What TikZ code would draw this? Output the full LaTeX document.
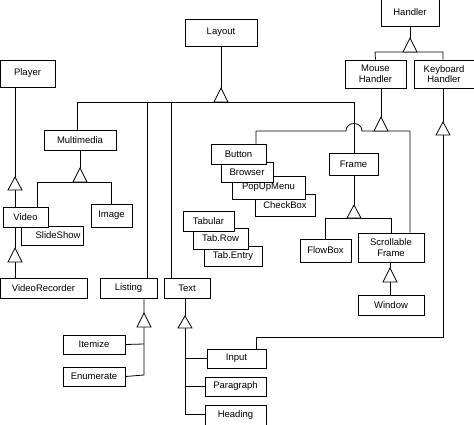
\documentclass[tikz,border=0pt]{standalone}
\usepackage{fontspec}
\setmainfont{Liberation Sans}
\begin{document}
\begin{tikzpicture}[x=1pt,y=-1pt,line width=0.8pt,
  box/.style={draw,fill=white,inner sep=0pt,font=\fontsize{9.5}{10.5}\selectfont,align=center},
  tri/.style={draw,fill=white,line join=miter}]
\useasboundingbox (0,0) rectangle (474,425);
\newcommand{\tri}[3]{\draw[tri] (#1,#2)--(#1-7,#3)--(#1+7,#3)--cycle;}
\newcommand{\bx}[6]{\node[box,minimum width={#3-#2},minimum height={#5-#4}] (#1) at ({(#2+#3)/2},{(#4+#5)/2}) {#6};}
% boxes
\bx{handler}{381}{439}{-2}{26}{Handler}
\bx{layout}{185}{257}{19}{46}{Layout}
\bx{player}{0}{55}{60}{87}{Player}
\bx{mouse}{345}{406}{60}{88}{Mouse\\Handler}
\bx{keyb}{414}{474}{60}{88}{Keyboard\\Handler}
\bx{multi}{44}{116}{130}{150}{Multimedia}
\bx{slide}{21}{83}{226}{245}{\hspace*{12pt}SlideShow}
\bx{video}{3}{48}{207}{227}{Video}
\bx{image}{91}{132}{204}{227}{Image}
\bx{vrec}{0}{87}{278}{298}{VideoRecorder}
\bx{listing}{100}{157}{278}{298}{Listing}
\bx{text}{164}{210}{278}{298}{Text}
\bx{itemize}{63}{125}{335}{354}{Itemize}
\bx{enum}{63}{125}{367}{386}{Enumerate}
\bx{input}{207}{266}{349}{368}{Input}
\bx{para}{205}{266}{377}{396}{Paragraph}
\bx{heading}{205}{266}{405}{425}{Heading}
\bx{check}{255}{315}{194}{216}{CheckBox}
\bx{popup}{232}{305}{176}{199}{PopUpMenu}
\bx{browser}{221}{273}{162}{182}{Browser}
\bx{button}{211}{266}{144}{164}{Button}
\bx{tentry}{204}{262}{246}{266}{Tab.Entry}
\bx{trow}{193}{248}{228}{249}{Tab.Row}
\bx{tabular}{183}{234}{211}{231}{Tabular}
\bx{frame}{329}{378}{153}{175}{Frame}
\bx{flow}{300}{351}{239}{262}{FlowBox}
\bx{sframe}{358}{424}{233}{262}{Scrollable\\Frame}
\bx{window}{358}{424}{295}{315}{Window}
% connectors
\draw (handler.south) -- (410,38);
\draw (mouse.north) -- (375,52) -- (443,52) -- (keyb.north -| 443,0);
\tri{410}{38}{52}
\draw (layout.south) -- (221,88);
\draw (multi.north -| 77,0) -- (77,102) -- (354,102) -- (frame.north -| 354,0);
\draw (147,102) -- (listing.north -| 147,0);
\draw (171,102) -- (text.north -| 171,0);
\tri{221}{88}{102}
\draw (multi.south -| 80,0) -- (80,168);
\draw (video.north -| 37,0) -- (37,182) -- (111,182) -- (image.north -| 111,0);
\tri{80}{168}{182}
\draw (player.south -| 15,0) -- (15,177) (15,190) -- (video.north -| 15,0);
\tri{15}{177}{190}
\draw (video.south -| 15,0) -- (15,248) (15,262) -- (vrec.north -| 15,0);
\tri{15}{248}{262}
\draw (listing.south -| 144,0) -- (144,313) (144,327) -- (144,375) -- (enum.east);
\draw (itemize.east) -- (144,344);
\tri{144}{313}{327}
\draw (text.south -| 185,0) -- (185,316) (185,328) -- (185,414) -- (heading.west |- 185,414);
\draw (185,358) -- (input.west |- 185,358);
\draw (185,386) -- (para.west |- 185,386);
\tri{185}{316}{328}
\draw (input.north -| 256,0) -- (256,337) -- (443,337) -- (443,135);
\draw (keyb.south -| 443,0) -- (443,122);
\tri{443}{122}{135}
\draw (button.north -| 256,0) -- (256,131) -- (346,131) .. controls (346,121) and (362,121) .. (362,131) -- (410,131) -- (sframe.north -| 410,0);
\draw (mouse.south -| 381,0) -- (381,117);
\tri{381}{117}{131}
\draw (frame.south -| 354,0) -- (354,205);
\draw (flow.north -| 325,0) -- (325,218) -- (391,218) -- (sframe.north -| 391,0);
\tri{354}{205}{218}
\draw (sframe.south -| 390,0) -- (390,268) (390,282) -- (window.north -| 390,0);
\tri{390}{268}{282}
\end{tikzpicture}
\end{document}
